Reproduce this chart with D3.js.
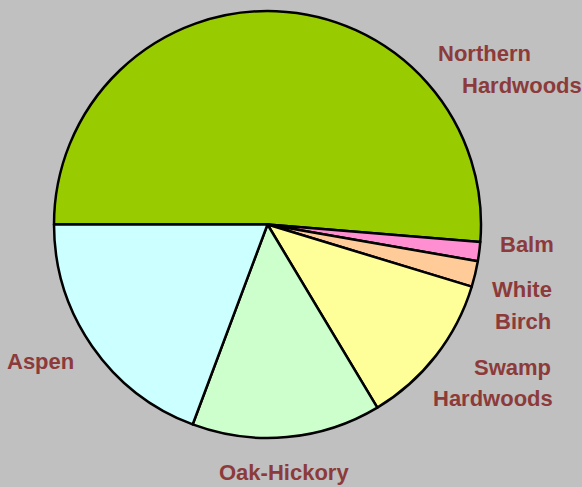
<!DOCTYPE html>
<html>
<head>
<meta charset="utf-8">
<script src="https://cdn.jsdelivr.net/npm/d3@7"></script>
<style>
  html, body { margin: 0; padding: 0; background: #c0c0c0; }
  svg { display: block; }
  .lbl { font-family: "Liberation Sans", Arial, sans-serif; font-weight: bold; font-size: 22px; fill: #8c3a3a; }
</style>
</head>
<body>
<svg id="chart"></svg>
<script>
// forest types, percent of area
const types = ["Northern Hardwoods", "Balm", "White Birch", "Swamp Hardwoods", "Oak-Hickory", "Aspen"];
const shares = [51.3, 1.45, 1.95, 11.7, 14.3, 19.3];
const colors = ["#99cc00", "#ff8fd0", "#ffcc99", "#ffff99", "#ccffcc", "#ccffff"];

// label lines for each type
const labelLines = [["Northern", "Hardwoods"], ["Balm"], ["White", "Birch"], ["Swamp", "Hardwoods"], ["Oak-Hickory"], ["Aspen"]];

const width = 582, height = 487;
const cx = 267.5, cy = 224.5, r = 213.5;

// where each label line sits (left x, baseline y)
const labelPos = [
  [[438, 61], [462, 93]],
  [[500, 252]],
  [[492, 297], [495, 329]],
  [[474, 375], [433, 406]],
  [[219, 480]],
  [[7, 369]]
];

const svg = d3.select("#chart")
  .attr("width", width)
  .attr("height", height);

const data = types.map((t, i) => ({ type: t, value: shares[i], color: colors[i] }));

const pie = d3.pie()
  .sort(null)
  .value(d => d.value)
  .startAngle(-Math.PI / 2)
  .endAngle(3 * Math.PI / 2);

const arc = d3.arc().innerRadius(0).outerRadius(r);

const g = svg.append("g").attr("transform", "translate(" + cx + "," + cy + ")");

g.selectAll("path")
  .data(pie(data))
  .join("path")
  .attr("d", arc)
  .attr("fill", d => d.data.color)
  .attr("stroke", "#000")
  .attr("stroke-width", 2.5)
  .attr("stroke-linejoin", "round");

// labels
labelLines.forEach((lines, i) => {
  lines.forEach((txt, j) => {
    svg.append("text")
      .attr("class", "lbl")
      .attr("x", labelPos[i][j][0])
      .attr("y", labelPos[i][j][1])
      .text(txt);
  });
});
</script>
</body>
</html>
